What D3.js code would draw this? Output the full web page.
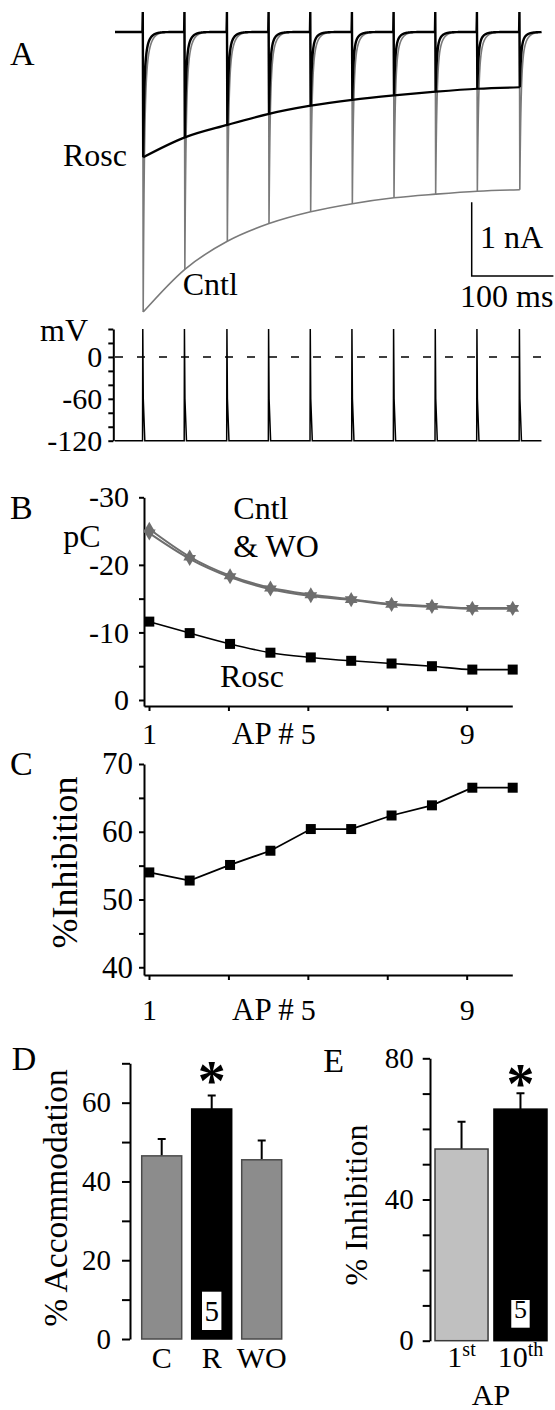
<!DOCTYPE html>
<html>
<head>
<meta charset="utf-8">
<script src="https://cdn.jsdelivr.net/npm/d3@7"></script>
<style>
  body { margin: 0; background: #fff; }
  svg text { font-family: 'Liberation Serif', 'DejaVu Serif', serif; fill: #000; }
</style>
</head>
<body>
<svg id="fig" width="555" height="1410"></svg>
<script>
// ---- A: current traces (nA) and action potential train
var spikeTimes = [34, 85, 137, 188, 239, 290, 341, 392, 443, 495];   // ms
var roscPeak = [-1.70, -1.43, -1.26, -1.11, -1.00, -0.92, -0.86, -0.81, -0.77, -0.75];
var cntlPeak = [-3.80, -3.22, -2.84, -2.60, -2.44, -2.33, -2.25, -2.20, -2.16, -2.14];
var artifactPeak = 0.27;   // nA, stim artifact
var traceEnd = 522;        // ms
var vRest = -120, vSpike = 40;

// ---- B: charge per AP (pC)
var apNum = [1, 2, 3, 4, 5, 6, 7, 8, 9, 10];
var chargeCntl = [-25.3, -21.2, -18.4, -16.6, -15.6, -14.9, -14.2, -13.9, -13.6, -13.6];
var chargeWO   = [-24.7, -20.9, -18.2, -16.4, -15.4, -14.8, -14.1, -13.8, -13.5, -13.5];
var chargeRosc = [-11.6, -9.9, -8.3, -7.0, -6.3, -5.8, -5.4, -5.0, -4.5, -4.5];

// ---- C: % inhibition per AP
var inhibition = [54.0, 52.8, 55.1, 57.2, 60.4, 60.4, 62.4, 63.9, 66.5, 66.5];

// ---- D: % accommodation
var accomCats = ["C", "R", "WO"];
var accomMean = [46.5, 58.4, 45.5];
var accomErr  = [4.3, 3.4, 4.9];

// ---- E: % inhibition 1st vs 10th AP
var inhCats = ["1st", "10th"];
var inhMean = [54.3, 65.6];
var inhErr  = [7.7, 4.5];
var nCells = 5;

var svg = d3.select("#fig");
var FS = 29;      // tick numbers
var WS = 32;      // word labels
var PS = 34;      // panel letters
var FONT = "'Liberation Serif', 'DejaVu Serif', serif";

function styleAxis(a, fs) {
  a.attr("font-family", null).attr("font-size", fs || FS);
  a.select(".domain").attr("stroke-width", 2);
  a.selectAll(".tick line").attr("stroke-width", 2);
  a.selectAll(".tick text").attr("fill", "#000").style("font-family", FONT);
}
function labelOnly(list) {
  return function(d) { return list.indexOf(d) >= 0 ? String(d) : ""; };
}
function addText(x, y, s, opts) {
  opts = opts || {};
  return svg.append("text").attr("x", x).attr("y", y)
    .style("font-family", FONT)
    .attr("font-size", opts.size || WS)
    .attr("text-anchor", opts.anchor || "start")
    .text(s);
}
function addVText(x, y, s, size) {
  return svg.append("text").attr("transform", "translate(" + x + "," + y + ") rotate(-90)")
    .style("font-family", FONT).attr("text-anchor", "middle").attr("font-size", size).text(s);
}

// ================= A =================
var xT = d3.scaleLinear().domain([0, 100]).range([115, 196.7]);
var yI = d3.scaleLinear().domain([0, -1]).range([32, 105.7]);

function tracePoints(peaks) {
  var pts = [[0, 0]];
  spikeTimes.forEach(function(ts, k) {
    pts.push([ts - 0.4, 0]);
    pts.push([ts, artifactPeak]);
    pts.push([ts + 0.5, peaks[k]]);
    var next = k < spikeTimes.length - 1 ? spikeTimes[k + 1] : traceEnd;
    for (var dt = 0.75; ts + dt < next - 0.5 && dt < 45; dt += 0.25) {
      var d = dt - 0.5;
      pts.push([ts + dt, peaks[k] * (0.72 * Math.exp(-d / 1.4) + 0.28 * Math.exp(-d / 5))]);
    }
  });
  pts.push([traceEnd, 0]);
  return pts;
}
var traceLine = d3.line().x(function(d) { return xT(d[0]); }).y(function(d) { return yI(d[1]); });
var envLine = d3.line().curve(d3.curveMonotoneX)
  .x(function(d) { return xT(d[0]); }).y(function(d) { return yI(d[1]); });

svg.append("path").attr("d", traceLine(tracePoints(cntlPeak)))
  .attr("fill", "none").attr("stroke", "#7a7a7a").attr("stroke-width", 1.6);
svg.append("path").attr("d", envLine(spikeTimes.map(function(t, k) { return [t + 0.5, cntlPeak[k]]; })))
  .attr("fill", "none").attr("stroke", "#7a7a7a").attr("stroke-width", 1.6);
svg.append("path").attr("d", traceLine(tracePoints(roscPeak)))
  .attr("fill", "none").attr("stroke", "#000").attr("stroke-width", 2.4);
svg.append("path").attr("d", envLine(spikeTimes.map(function(t, k) { return [t + 0.5, roscPeak[k]]; })))
  .attr("fill", "none").attr("stroke", "#000").attr("stroke-width", 2.2);

// scale bar 1 nA / 100 ms
var sbT = 436.6, sbI = -3.31;
svg.append("path")
  .attr("d", "M" + xT(sbT) + "," + yI(sbI + 1) + "V" + yI(sbI) + "H" + xT(sbT + 100))
  .attr("fill", "none").attr("stroke", "#000").attr("stroke-width", 1.5);
addText(480, 248, "1 nA");
addText(460, 306.7, "100 ms");

addText(10, 65, "A", {size: PS});
addText(63, 165.7, "Rosc");
addText(182.7, 295, "Cntl");

// voltage
var yV = d3.scaleLinear().domain([vRest, vSpike]).range([440.7, 329]);
var vAx = svg.append("g").attr("transform", "translate(113.3,0)")
  .call(d3.axisLeft(yV).tickValues(d3.range(-120, 41, 20)).tickSize(5).tickSizeOuter(0)
    .tickPadding(6).tickFormat(labelOnly([0, -60, -120])));
styleAxis(vAx, 30);
addText(40, 340.7, "mV");

svg.append("line").attr("x1", xT(0)).attr("x2", xT(traceEnd))
  .attr("y1", yV(0)).attr("y2", yV(0))
  .attr("stroke", "#000").attr("stroke-width", 1.5).attr("stroke-dasharray", "8,14");

var vPts = [[0, vRest]];
spikeTimes.forEach(function(ts) {
  vPts.push([ts - 0.3, vRest], [ts, vSpike], [ts + 0.6, -60], [ts + 2.5, vRest]);
});
vPts.push([traceEnd, vRest]);
svg.append("path")
  .attr("d", d3.line().x(function(d) { return xT(d[0]); }).y(function(d) { return yV(d[1]); })(vPts))
  .attr("fill", "none").attr("stroke", "#000").attr("stroke-width", 1.5);

// ================= B =================
var xPts = d3.scaleLinear().domain([1, 10]).range([149.3, 512.7]);
var xTickB = d3.scaleLinear().domain([0.874, 10.149]).range([144, 512.3]);
var yB = d3.scaleLinear().domain([0.89, -30]).range([706, 497.3]);

var bxAx = svg.append("g").attr("transform", "translate(0,706)")
  .call(d3.axisBottom(xTickB).tickValues([1, 3, 5, 7, 9]).tickSize(5).tickSizeOuter(0)
    .tickPadding(12).tickFormat(labelOnly([1, 5, 9])));
styleAxis(bxAx, 30);
var byAx = svg.append("g").attr("transform", "translate(144,0)")
  .call(d3.axisLeft(yB).tickValues([0, -5, -10, -15, -20, -30]).tickSize(5).tickSizeOuter(0)
    .tickPadding(10).tickFormat(labelOnly([0, -10, -20, -30])));
styleAxis(byAx, 30);
addText(xTickB(5) - 14, 744, "AP #", {size: 31, anchor: "end"});

var lineB = d3.line().curve(d3.curveMonotoneX)
  .x(function(d, i) { return xPts(apNum[i]); }).y(function(d) { return yB(d); });
var grey = "#6e6e6e";
svg.append("path").attr("d", lineB(chargeWO)).attr("fill", "none").attr("stroke", grey).attr("stroke-width", 2);
svg.append("path").attr("d", lineB(chargeCntl)).attr("fill", "none").attr("stroke", grey).attr("stroke-width", 2);
svg.append("path").attr("d", lineB(chargeRosc)).attr("fill", "none").attr("stroke", "#000").attr("stroke-width", 1.6);

var tri = d3.symbol(d3.symbolTriangle).size(70);
svg.selectAll(".cntl").data(chargeCntl).enter().append("path")
  .attr("d", tri)
  .attr("transform", function(d, i) { return "translate(" + xPts(apNum[i]) + "," + yB(d) + ")"; })
  .attr("fill", grey);
svg.selectAll(".wo").data(chargeWO).enter().append("path")
  .attr("d", tri)
  .attr("transform", function(d, i) { return "translate(" + xPts(apNum[i]) + "," + yB(d) + ") rotate(180)"; })
  .attr("fill", grey);
var sq = d3.symbol(d3.symbolSquare).size(100);
svg.selectAll(".rosc").data(chargeRosc).enter().append("path")
  .attr("d", sq)
  .attr("transform", function(d, i) { return "translate(" + xPts(apNum[i]) + "," + yB(d) + ")"; })
  .attr("fill", "#000");

addText(10, 519.3, "B", {size: PS});
addText(63.3, 547.3, "pC");
addText(233.3, 519.3, "Cntl");
addText(233.3, 556.7, "& WO");
addText(220, 686.7, "Rosc");

// ================= C =================
var yC = d3.scaleLinear().domain([70, 38.86]).range([764, 975]);
var cxAx = svg.append("g").attr("transform", "translate(0,975)")
  .call(d3.axisBottom(xTickB).tickValues([1, 3, 5, 7, 9]).tickSize(5).tickSizeOuter(0)
    .tickPadding(19).tickFormat(labelOnly([1, 5, 9])));
styleAxis(cxAx, 30);
var cyAx = svg.append("g").attr("transform", "translate(144,0)")
  .call(d3.axisLeft(yC).tickValues(d3.range(40, 71, 5)).tickSize(5).tickSizeOuter(0)
    .tickPadding(6).tickFormat(labelOnly([40, 50, 60, 70])));
styleAxis(cyAx, 31);
addText(xTickB(5) - 14, 1020, "AP #", {size: 31, anchor: "end"});

svg.append("path")
  .attr("d", d3.line().x(function(d, i) { return xPts(apNum[i]); }).y(function(d) { return yC(d); })(inhibition))
  .attr("fill", "none").attr("stroke", "#000").attr("stroke-width", 1.8);
svg.selectAll(".inh").data(inhibition).enter().append("path")
  .attr("d", sq)
  .attr("transform", function(d, i) { return "translate(" + xPts(apNum[i]) + "," + yC(d) + ")"; })
  .attr("fill", "#000");

addText(10, 775, "C", {size: PS});
addVText(77, 862.5, "%Inhibition", 36);

// ================= D =================
var xD = d3.scaleBand().domain(accomCats).range([136.7, 286.7]).paddingInner(0.2).paddingOuter(0.1);
var yD = d3.scaleLinear().domain([0, 70]).range([1339, 1063.3]);
var dyAx = svg.append("g").attr("transform", "translate(130,0)")
  .call(d3.axisLeft(yD).tickValues(d3.range(0, 71, 10)).tickSize(8).tickSizeOuter(0)
    .tickPadding(11).tickFormat(labelOnly([0, 20, 40, 60])));
styleAxis(dyAx);
var dFill = ["#8c8c8c", "#000", "#8c8c8c"];

accomCats.forEach(function(c, i) {
  var cx = xD(c) + xD.bandwidth() / 2;
  svg.append("path")
    .attr("d", "M" + cx + "," + yD(accomMean[i]) + "V" + yD(accomMean[i] + accomErr[i])
      + "M" + (cx - 4) + "," + yD(accomMean[i] + accomErr[i]) + "H" + (cx + 4))
    .attr("stroke", "#000").attr("stroke-width", 2).attr("fill", "none");
  svg.append("rect").attr("x", xD(c)).attr("width", xD.bandwidth())
    .attr("y", yD(accomMean[i])).attr("height", yD(0) - yD(accomMean[i]))
    .attr("fill", dFill[i]).attr("stroke", i === 1 ? "#000" : "#4a4a4a").attr("stroke-width", 1.5);
  addText(cx, 1368.3, c, {size: 30, anchor: "middle"});
});
var rx = xD("R") + xD.bandwidth() / 2;
svg.append("rect").attr("x", rx - 9.7).attr("y", 1291.7).attr("width", 19.4).attr("height", 38.3).attr("fill", "#fff");
addText(rx, 1320.7, String(nCells), {size: FS, anchor: "middle"});
addText(rx, 1100, "*", {anchor: "middle", size: 56}).attr("font-weight", "bold");

addText(11.7, 1070, "D", {size: PS});
addVText(67, 1198, "% Accommodation", 33.5);

// ================= E =================
var xE = d3.scaleBand().domain(inhCats).range([430, 552]).paddingInner(0.1).paddingOuter(0.085);
var yE = d3.scaleLinear().domain([0, 80]).range([1340.7, 1058.3]);
var eyAx = svg.append("g").attr("transform", "translate(430,0)")
  .call(d3.axisLeft(yE).tickValues(d3.range(0, 81, 10)).tickSize(7.3).tickSizeOuter(0)
    .tickPadding(9).tickFormat(labelOnly([0, 40, 80])));
styleAxis(eyAx);
var eFill = ["#c0c0c0", "#000"];
inhCats.forEach(function(c, i) {
  var cx = xE(c) + xE.bandwidth() / 2;
  svg.append("path")
    .attr("d", "M" + cx + "," + yE(inhMean[i]) + "V" + yE(inhMean[i] + inhErr[i])
      + "M" + (cx - 4) + "," + yE(inhMean[i] + inhErr[i]) + "H" + (cx + 4))
    .attr("stroke", "#000").attr("stroke-width", 2).attr("fill", "none");
  svg.append("rect").attr("x", xE(c)).attr("width", xE.bandwidth())
    .attr("y", yE(inhMean[i])).attr("height", yE(0) - yE(inhMean[i]))
    .attr("fill", eFill[i]).attr("stroke", i === 1 ? "#000" : "#3a3a3a").attr("stroke-width", 1.5);
  var num = c.replace(/\D+$/, ""), sup = c.replace(/^\d+/, "");
  var t = addText(cx, 1366.7, "", {size: 30, anchor: "middle"});
  t.append("tspan").text(num);
  t.append("tspan").attr("font-size", 20).attr("dy", -11).text(sup);
});
var ex = xE("10th") + xE.bandwidth() / 2;
svg.append("rect").attr("x", ex - 9.2).attr("y", 1300).attr("width", 18.4).attr("height", 27.7).attr("fill", "#fff");
addText(ex, 1318.3, String(nCells), {anchor: "middle", size: 26});
addText(ex, 1103, "*", {anchor: "middle", size: 56}).attr("font-weight", "bold");
addText((xE("1st") + xE("10th") + xE.bandwidth()) / 2, 1405, "AP", {size: 30, anchor: "middle"});

addText(323.3, 1071.7, "E", {size: PS});
addVText(367, 1205, "% Inhibition", 32);
</script>
</body>
</html>
